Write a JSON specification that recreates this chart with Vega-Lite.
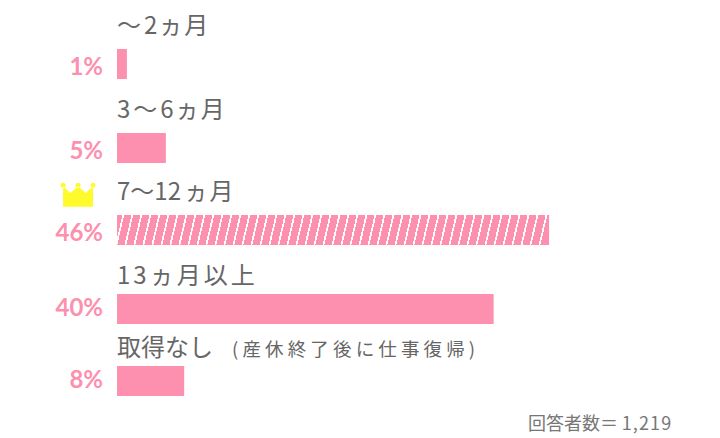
{"$schema":"https://vega.github.io/schema/vega-lite/v6.json","width":720,"height":438,"padding":0,"autosize":{"type":"fit","contains":"padding"},"background":"white","view":{"stroke":null},
"datasets":{"rows":[
{"rank":1,"category":"～\u200a\u200a2\u200aヵ\u200a月","value":1.05,"label":"1%"},
{"rank":2,"category":"3\u200a\u200a～\u200a\u200a6\u200aヵ\u200a月","value":5.2,"label":"5%"},
{"rank":3,"category":"7～12\u200a\u200aヵ\u200a月","value":46,"label":"46%"},
{"rank":4,"category":"1\u200a\u200a3\u200a\u200aヵ\u200a\u200a月\u200a\u200a以\u200a\u200a上","value":40.1,"label":"40%"},
{"rank":5,"category":"取得なし","note":"( 産 休 終 了 後 に 仕 事 復 帰 )","value":7.15,"label":"8%"},
{"rank":6,"footer":"回答者数＝\u20091\u200a,\u200a2\u200a1\u200a9","value":0}
]},
"data":{"name":"rows"},
"encoding":{
"x":{"field":"value","type":"quantitative","axis":null,"scale":{"domain":[-12.46,64.2],"zero":false,"nice":false}},
"y":{"field":"rank","type":"quantitative","axis":null,"scale":{"domain":[0,1,2,3,4,5,6],"range":[-20,64,148,230,309,381,424],"zero":false,"nice":false}}
},
"layer":[
{"transform":[{"filter":"datum.rank != 3 && datum.rank < 6"}],"mark":{"type":"bar","height":30,"color":"#FC90AE","orient":"horizontal"}},
{"transform":[{"filter":"datum.rank == 3"}],"mark":{"type":"bar","height":30,"orient":"horizontal","fill":{"x1":0,"y1":0,"x2":1,"y2":0.0162,"gradient":"linear","stops":[{"offset":0,"color":"#FC90AE"},{"offset":0.0125,"color":"#FC90AE"},{"offset":0.0125,"color":"#fff"},{"offset":0.0167,"color":"#fff"},{"offset":0.0167,"color":"#FC90AE"},{"offset":0.0333,"color":"#FC90AE"},{"offset":0.0333,"color":"#fff"},{"offset":0.0375,"color":"#fff"},{"offset":0.0375,"color":"#FC90AE"},{"offset":0.0542,"color":"#FC90AE"},{"offset":0.0542,"color":"#fff"},{"offset":0.0583,"color":"#fff"},{"offset":0.0583,"color":"#FC90AE"},{"offset":0.075,"color":"#FC90AE"},{"offset":0.075,"color":"#fff"},{"offset":0.0792,"color":"#fff"},{"offset":0.0792,"color":"#FC90AE"},{"offset":0.0958,"color":"#FC90AE"},{"offset":0.0958,"color":"#fff"},{"offset":0.1,"color":"#fff"},{"offset":0.1,"color":"#FC90AE"},{"offset":0.1167,"color":"#FC90AE"},{"offset":0.1167,"color":"#fff"},{"offset":0.1208,"color":"#fff"},{"offset":0.1208,"color":"#FC90AE"},{"offset":0.1375,"color":"#FC90AE"},{"offset":0.1375,"color":"#fff"},{"offset":0.1417,"color":"#fff"},{"offset":0.1417,"color":"#FC90AE"},{"offset":0.1583,"color":"#FC90AE"},{"offset":0.1583,"color":"#fff"},{"offset":0.1625,"color":"#fff"},{"offset":0.1625,"color":"#FC90AE"},{"offset":0.1792,"color":"#FC90AE"},{"offset":0.1792,"color":"#fff"},{"offset":0.1833,"color":"#fff"},{"offset":0.1833,"color":"#FC90AE"},{"offset":0.2,"color":"#FC90AE"},{"offset":0.2,"color":"#fff"},{"offset":0.2042,"color":"#fff"},{"offset":0.2042,"color":"#FC90AE"},{"offset":0.2208,"color":"#FC90AE"},{"offset":0.2208,"color":"#fff"},{"offset":0.225,"color":"#fff"},{"offset":0.225,"color":"#FC90AE"},{"offset":0.2417,"color":"#FC90AE"},{"offset":0.2417,"color":"#fff"},{"offset":0.2458,"color":"#fff"},{"offset":0.2458,"color":"#FC90AE"},{"offset":0.2625,"color":"#FC90AE"},{"offset":0.2625,"color":"#fff"},{"offset":0.2667,"color":"#fff"},{"offset":0.2667,"color":"#FC90AE"},{"offset":0.2833,"color":"#FC90AE"},{"offset":0.2833,"color":"#fff"},{"offset":0.2875,"color":"#fff"},{"offset":0.2875,"color":"#FC90AE"},{"offset":0.3042,"color":"#FC90AE"},{"offset":0.3042,"color":"#fff"},{"offset":0.3083,"color":"#fff"},{"offset":0.3083,"color":"#FC90AE"},{"offset":0.325,"color":"#FC90AE"},{"offset":0.325,"color":"#fff"},{"offset":0.3292,"color":"#fff"},{"offset":0.3292,"color":"#FC90AE"},{"offset":0.3458,"color":"#FC90AE"},{"offset":0.3458,"color":"#fff"},{"offset":0.35,"color":"#fff"},{"offset":0.35,"color":"#FC90AE"},{"offset":0.3667,"color":"#FC90AE"},{"offset":0.3667,"color":"#fff"},{"offset":0.3708,"color":"#fff"},{"offset":0.3708,"color":"#FC90AE"},{"offset":0.3875,"color":"#FC90AE"},{"offset":0.3875,"color":"#fff"},{"offset":0.3917,"color":"#fff"},{"offset":0.3917,"color":"#FC90AE"},{"offset":0.4083,"color":"#FC90AE"},{"offset":0.4083,"color":"#fff"},{"offset":0.4125,"color":"#fff"},{"offset":0.4125,"color":"#FC90AE"},{"offset":0.4292,"color":"#FC90AE"},{"offset":0.4292,"color":"#fff"},{"offset":0.4333,"color":"#fff"},{"offset":0.4333,"color":"#FC90AE"},{"offset":0.45,"color":"#FC90AE"},{"offset":0.45,"color":"#fff"},{"offset":0.4542,"color":"#fff"},{"offset":0.4542,"color":"#FC90AE"},{"offset":0.4708,"color":"#FC90AE"},{"offset":0.4708,"color":"#fff"},{"offset":0.475,"color":"#fff"},{"offset":0.475,"color":"#FC90AE"},{"offset":0.4917,"color":"#FC90AE"},{"offset":0.4917,"color":"#fff"},{"offset":0.4958,"color":"#fff"},{"offset":0.4958,"color":"#FC90AE"},{"offset":0.5125,"color":"#FC90AE"},{"offset":0.5125,"color":"#fff"},{"offset":0.5167,"color":"#fff"},{"offset":0.5167,"color":"#FC90AE"},{"offset":0.5333,"color":"#FC90AE"},{"offset":0.5333,"color":"#fff"},{"offset":0.5375,"color":"#fff"},{"offset":0.5375,"color":"#FC90AE"},{"offset":0.5542,"color":"#FC90AE"},{"offset":0.5542,"color":"#fff"},{"offset":0.5583,"color":"#fff"},{"offset":0.5583,"color":"#FC90AE"},{"offset":0.575,"color":"#FC90AE"},{"offset":0.575,"color":"#fff"},{"offset":0.5792,"color":"#fff"},{"offset":0.5792,"color":"#FC90AE"},{"offset":0.5958,"color":"#FC90AE"},{"offset":0.5958,"color":"#fff"},{"offset":0.6,"color":"#fff"},{"offset":0.6,"color":"#FC90AE"},{"offset":0.6167,"color":"#FC90AE"},{"offset":0.6167,"color":"#fff"},{"offset":0.6208,"color":"#fff"},{"offset":0.6208,"color":"#FC90AE"},{"offset":0.6375,"color":"#FC90AE"},{"offset":0.6375,"color":"#fff"},{"offset":0.6417,"color":"#fff"},{"offset":0.6417,"color":"#FC90AE"},{"offset":0.6583,"color":"#FC90AE"},{"offset":0.6583,"color":"#fff"},{"offset":0.6625,"color":"#fff"},{"offset":0.6625,"color":"#FC90AE"},{"offset":0.6792,"color":"#FC90AE"},{"offset":0.6792,"color":"#fff"},{"offset":0.6833,"color":"#fff"},{"offset":0.6833,"color":"#FC90AE"},{"offset":0.7,"color":"#FC90AE"},{"offset":0.7,"color":"#fff"},{"offset":0.7042,"color":"#fff"},{"offset":0.7042,"color":"#FC90AE"},{"offset":0.7208,"color":"#FC90AE"},{"offset":0.7208,"color":"#fff"},{"offset":0.725,"color":"#fff"},{"offset":0.725,"color":"#FC90AE"},{"offset":0.7417,"color":"#FC90AE"},{"offset":0.7417,"color":"#fff"},{"offset":0.7458,"color":"#fff"},{"offset":0.7458,"color":"#FC90AE"},{"offset":0.7625,"color":"#FC90AE"},{"offset":0.7625,"color":"#fff"},{"offset":0.7667,"color":"#fff"},{"offset":0.7667,"color":"#FC90AE"},{"offset":0.7833,"color":"#FC90AE"},{"offset":0.7833,"color":"#fff"},{"offset":0.7875,"color":"#fff"},{"offset":0.7875,"color":"#FC90AE"},{"offset":0.8042,"color":"#FC90AE"},{"offset":0.8042,"color":"#fff"},{"offset":0.8083,"color":"#fff"},{"offset":0.8083,"color":"#FC90AE"},{"offset":0.825,"color":"#FC90AE"},{"offset":0.825,"color":"#fff"},{"offset":0.8292,"color":"#fff"},{"offset":0.8292,"color":"#FC90AE"},{"offset":0.8458,"color":"#FC90AE"},{"offset":0.8458,"color":"#fff"},{"offset":0.85,"color":"#fff"},{"offset":0.85,"color":"#FC90AE"},{"offset":0.8667,"color":"#FC90AE"},{"offset":0.8667,"color":"#fff"},{"offset":0.8708,"color":"#fff"},{"offset":0.8708,"color":"#FC90AE"},{"offset":0.8875,"color":"#FC90AE"},{"offset":0.8875,"color":"#fff"},{"offset":0.8917,"color":"#fff"},{"offset":0.8917,"color":"#FC90AE"},{"offset":0.9083,"color":"#FC90AE"},{"offset":0.9083,"color":"#fff"},{"offset":0.9125,"color":"#fff"},{"offset":0.9125,"color":"#FC90AE"},{"offset":0.9292,"color":"#FC90AE"},{"offset":0.9292,"color":"#fff"},{"offset":0.9333,"color":"#fff"},{"offset":0.9333,"color":"#FC90AE"},{"offset":0.95,"color":"#FC90AE"},{"offset":0.95,"color":"#fff"},{"offset":0.9542,"color":"#fff"},{"offset":0.9542,"color":"#FC90AE"},{"offset":0.9708,"color":"#FC90AE"},{"offset":0.9708,"color":"#fff"},{"offset":0.975,"color":"#fff"},{"offset":0.975,"color":"#FC90AE"},{"offset":0.9917,"color":"#FC90AE"},{"offset":0.9917,"color":"#fff"},{"offset":0.9958,"color":"#fff"},{"offset":0.9958,"color":"#FC90AE"},{"offset":1,"color":"#FC90AE"}]}}},
{"transform":[{"filter":"datum.rank <= 3"}],"mark":{"type":"text","align":"left","baseline":"middle","dy":-37,"font":"Noto Sans CJK JP","fontSize":24,"color":"#666666"},"encoding":{"x":{"datum":0},"text":{"field":"category"}}},
{"transform":[{"filter":"datum.rank > 3 && datum.rank < 6"}],"mark":{"type":"text","align":"left","baseline":"middle","dy":-32,"font":"Noto Sans CJK JP","fontSize":24,"color":"#666666"},"encoding":{"x":{"datum":0},"text":{"field":"category"}}},
{"transform":[{"filter":"datum.rank == 5"}],"mark":{"type":"text","align":"left","baseline":"middle","dy":-31,"dx":115,"font":"Noto Sans CJK JP","fontSize":18.5,"color":"#666666"},"encoding":{"x":{"datum":0},"text":{"field":"note"}}},
{"transform":[{"filter":"datum.rank <= 3"}],"mark":{"type":"text","align":"right","baseline":"middle","dx":-14,"dy":4,"font":"Lato","fontWeight":"bold","fontSize":24,"color":"#FC90AE"},"encoding":{"x":{"datum":0},"text":{"field":"label"}}},
{"transform":[{"filter":"datum.rank > 3 && datum.rank < 6"}],"mark":{"type":"text","align":"right","baseline":"middle","dx":-14,"dy":0,"font":"Lato","fontWeight":"bold","fontSize":24,"color":"#FC90AE"},"encoding":{"x":{"datum":0},"text":{"field":"label"}}},
{"transform":[{"filter":"datum.rank == 6"}],"mark":{"type":"text","align":"right","baseline":"middle","dy":4,"font":"Noto Sans CJK JP","fontSize":18,"color":"#777777"},"encoding":{"x":{"datum":59},"text":{"field":"footer"}}},
{"transform":[{"filter":"datum.rank == 3"}],"mark":{"type":"point","filled":true,"opacity":1,"color":"#FFFA2B","size":1156,"shape":"M-0.88 0.7 L-0.88 -0.5 L-0.45 -0.1 L0 -0.5 L0.45 -0.1 L0.88 -0.5 L0.88 0.7 Z M-1.03 -0.56 A0.15 0.15 0 1 0 -0.73 -0.56 A0.15 0.15 0 1 0 -1.03 -0.56 Z M-0.15 -0.56 A0.15 0.15 0 1 0 0.15 -0.56 A0.15 0.15 0 1 0 -0.15 -0.56 Z M0.73 -0.56 A0.15 0.15 0 1 0 1.03 -0.56 A0.15 0.15 0 1 0 0.73 -0.56 Z"},"encoding":{"x":{"datum":-4.15},"y":{"datum":2.57}}}
]}
